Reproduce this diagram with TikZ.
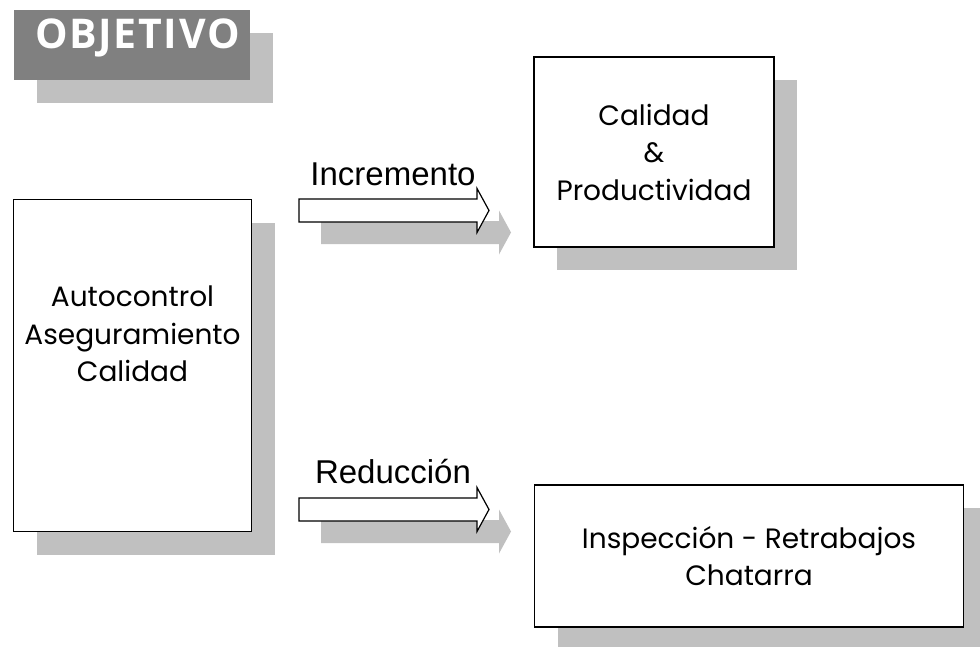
\documentclass[tikz,border=0pt]{standalone}
\usepackage{fontspec}
\setmainfont{Poppins}
\newfontfamily\labelfont{Liberation Sans}
\newfontfamily\titlefont{Open Sans}[LetterSpace=4]
\usetikzlibrary{shadows}
\definecolor{shadowgray}{HTML}{C0C0C0}
\definecolor{titlegray}{HTML}{808080}
\tikzset{
    shadowed/.style={
        general shadow={shadow xshift=#1, shadow yshift=-#1, fill=shadowgray}
    },
    shadowed/.default=23pt,
    box/.style={draw=black, line width=1.5pt, fill=white, shadowed, inner sep=0pt},
    boxtext/.style={font=\fontsize{28}{37.5}\selectfont, align=center, inner sep=0pt},
    arrowlabel/.style={font=\labelfont\fontsize{33}{38}\selectfont, inner sep=0pt, anchor=base},
    blockarrow/.pic={
        \filldraw[draw=black, fill=white, line width=1.2pt, shadowed=22pt]
            (0,-11.5) -- (178,-11.5) -- (178,-22) -- (190,0) -- (178,22)
            -- (178,11.5) -- (0,11.5) -- cycle;
    }
}

\begin{document}
\begin{tikzpicture}[x=1pt, y=-1pt]
    \useasboundingbox (0,0) rectangle (980,646);
    \clip (0,0) rectangle (980,646);
    % title
    \node[fill=titlegray, shadowed, minimum width=236pt, minimum height=70pt] (title) at (132,45) {};
    \node[text=white, font=\titlefont\bfseries\fontsize{41}{46}\selectfont, inner sep=0pt, anchor=base] (titletxt) at (137.5,48) {OBJETIVO};
    % boxes
    \node[box, minimum width=238pt, minimum height=332pt] (auto) at (132.5,365.5) {};
    \node[boxtext] (autotxt) at (132.5,334) {Autocontrol\\Aseguramiento\\Calidad};
    \node[box, boxtext, minimum width=240pt, minimum height=190pt] (calprod) at (654,152) {Calidad\\\&\\Productividad};
    \node[box, boxtext, minimum width=429pt, minimum height=142pt] (insp) at (749,556) {Inspección - Retrabajos\\Chatarra};
    % arrows
    \pic (incarrow) at (299,210.5) {blockarrow};
    \pic (redarrow) at (299,509.5) {blockarrow};
    % arrow labels
    \node[arrowlabel] (inclabel) at (393,185) {Incremento};
    \node[arrowlabel] (redlabel) at (393,483) {Reducción};
\end{tikzpicture}
\end{document}
